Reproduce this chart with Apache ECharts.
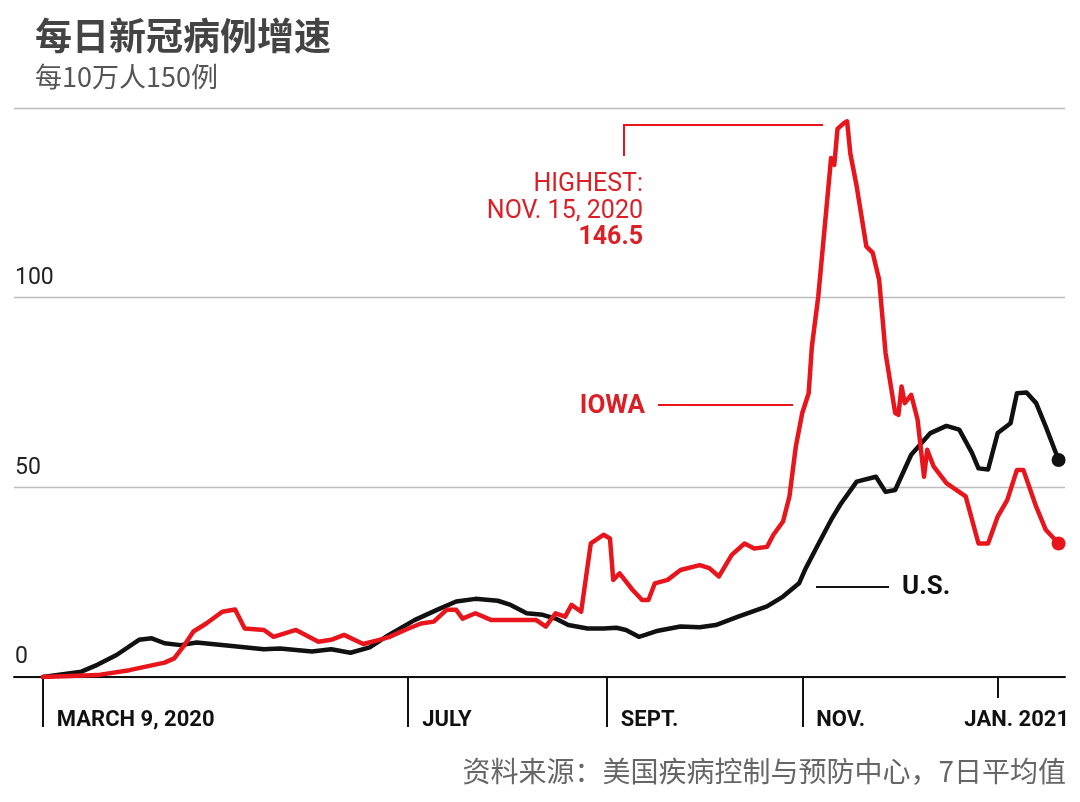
<!DOCTYPE html>
<html>
<head>
<meta charset="utf-8">
<script src="https://cdn.jsdelivr.net/npm/echarts@6/dist/echarts.min.js"></script>
<style>
html,body{margin:0;padding:0;background:#fff;}
#chart{width:1080px;height:802px;}
</style>
</head>
<body>
<div id="chart"></div>
<script>
// ---------- DATA ----------
const usDates = ['2020-03-09','2020-03-21','2020-03-26','2020-04-01','2020-04-08','2020-04-12','2020-04-16','2020-04-21','2020-04-26','2020-05-07','2020-05-17','2020-05-22','2020-06-01','2020-06-07','2020-06-13','2020-06-19','2020-06-25','2020-07-03','2020-07-10','2020-07-16','2020-07-22','2020-07-29','2020-08-02','2020-08-07','2020-08-12','2020-08-16','2020-08-20','2020-08-26','2020-08-31','2020-09-04','2020-09-07','2020-09-11','2020-09-13','2020-09-17','2020-09-24','2020-09-30','2020-10-05','2020-10-12','2020-10-21','2020-10-26','2020-10-31','2020-11-02','2020-11-06','2020-11-10','2020-11-13','2020-11-18','2020-11-24','2020-11-27','2020-11-30','2020-12-05','2020-12-11','2020-12-16','2020-12-20','2020-12-24','2020-12-26','2020-12-29','2021-01-01','2021-01-05','2021-01-07','2021-01-10','2021-01-13','2021-01-16','2021-01-20'];
const usValues = [0,1.4,3.2,5.8,9.8,10.2,8.9,8.4,9.1,8.2,7.3,7.5,6.7,7.3,6.4,7.8,11.1,15.0,17.7,19.9,20.6,20.1,19.0,16.8,16.4,15.4,13.7,12.8,12.8,13.0,12.4,10.6,11.1,12.2,13.3,13.1,13.7,15.9,18.6,21.2,24.7,28.5,35.0,41.4,45.6,51.5,52.8,48.8,49.3,58.6,64.3,66.2,65.2,59.0,55.0,54.7,64.3,66.9,74.8,75.0,72.2,66.0,57.2];

const iowaDates = ['2020-03-09','2020-03-26','2020-04-05','2020-04-16','2020-04-19','2020-04-22','2020-04-25','2020-04-29','2020-05-04','2020-05-08','2020-05-11','2020-05-17','2020-05-20','2020-05-27','2020-06-03','2020-06-07','2020-06-11','2020-06-17','2020-06-22','2020-06-25','2020-06-30','2020-07-05','2020-07-09','2020-07-13','2020-07-16','2020-07-18','2020-07-22','2020-07-27','2020-08-02','2020-08-10','2020-08-13','2020-08-16','2020-08-19','2020-08-21','2020-08-24','2020-08-27','2020-08-31','2020-09-02','2020-09-03','2020-09-05','2020-09-09','2020-09-12','2020-09-14','2020-09-16','2020-09-20','2020-09-24','2020-09-30','2020-10-03','2020-10-06','2020-10-10','2020-10-14','2020-10-17','2020-10-21','2020-10-23','2020-10-26','2020-10-28','2020-10-30','2020-11-01','2020-11-03','2020-11-04','2020-11-06','2020-11-10','2020-11-11','2020-11-12','2020-11-14','2020-11-15','2020-11-16','2020-11-18','2020-11-21','2020-11-23','2020-11-25','2020-11-27','2020-11-30','2020-12-01','2020-12-02','2020-12-03','2020-12-05','2020-12-07','2020-12-09','2020-12-10','2020-12-12','2020-12-16','2020-12-22','2020-12-26','2020-12-29','2021-01-01','2021-01-04','2021-01-07','2021-01-09','2021-01-13','2021-01-16','2021-01-20'];
const iowaValues = [0,0.5,1.8,3.8,4.9,8.2,12.0,14.1,17.2,17.8,12.8,12.4,10.6,12.4,9.3,9.8,11.1,8.7,9.8,10.5,12.4,14.1,14.6,17.7,17.7,15.4,16.8,15.0,15.0,15.0,13.3,16.8,15.9,19.0,17.2,35.2,37.5,36.5,25.6,27.3,23.0,20.3,20.3,24.7,25.6,28.2,29.5,28.7,26.5,32.2,35.2,33.9,34.3,37.5,41.0,47.6,60.8,69.6,74.8,87.1,100.3,136.8,135.0,144.5,146.0,146.5,138.0,129.3,113.5,111.8,104.7,85.4,69.6,69.1,76.6,72.2,74.4,67.8,52.8,59.9,55.5,51.1,47.6,35.2,35.2,42.3,46.7,54.6,54.6,44.9,38.8,35.2];

const xTickDates = ['2020-03-09','2020-07-01','2020-09-01','2020-11-01'];
const xTickLabels = ['MARCH 9, 2020','JULY','SEPT.','NOV.'];
const janTickDates = ['2021-01-01'];
const janTickLabels = ['JAN. 2021'];
const yTickValues = [0,50,100];
const yTickLabels = ['0','50','100'];

const titleText = '每日新冠病例增速';
const subtitleText = '每10万人150例';
const sourceText = '资料来源：美国疾病控制与预防中心，7日平均值';

// ---------- HELPERS ----------
const t = s => { const p = s.split('-').map(Number); return Date.UTC(p[0], p[1]-1, p[2]); };
const RED = '#e8161c';
const RED_TXT = '#dc1f26';
const BLACK = '#111111';
const LATIN = 'Roboto, "Liberation Sans", Arial, sans-serif';
const CJK = '"Noto Sans CJK SC", "Noto Sans", sans-serif';

const usData = usDates.map((d, i) => [t(d), usValues[i]]);
const iowaData = iowaDates.map((d, i) => [t(d), iowaValues[i]]);
const xMin = t('2020-02-29');
const xMax = t('2021-01-22');
const xTicks = xTickDates.map(t);
const janTicks = janTickDates.map(t);

const chart = echarts.init(document.getElementById('chart'), null, {renderer: 'canvas'});

const option = {
  animation: false,
  backgroundColor: '#fff',
  title: [
    {
      text: titleText,
      subtext: subtitleText,
      left: 30, top: 12,
      itemGap: 9,
      textStyle: {fontFamily: CJK, fontSize: 37, fontWeight: 'bold', color: '#444'},
      subtextStyle: {fontFamily: CJK, fontSize: 27, color: '#555'}
    },
    {
      text: sourceText,
      right: 9, top: 752,
      textStyle: {fontFamily: CJK, fontSize: 28, fontWeight: 'normal', color: '#666'}
    }
  ],
  grid: {left: 14, right: 15, top: 108, bottom: 125, containLabel: false},
  xAxis: [
    {
      type: 'value', min: xMin, max: xMax, scale: true,
      axisLine: {show: true, onZero: false, lineStyle: {color: BLACK, width: 2}},
      splitLine: {show: false},
      axisTick: {show: true, length: 50, lineStyle: {color: BLACK, width: 2}, customValues: xTicks},
      axisLabel: {
        show: true, customValues: xTicks,
        formatter: v => { const i = xTicks.indexOf(v); return i >= 0 ? xTickLabels[i] : ''; },
        align: 'left', padding: [0, 0, 0, 14], margin: 32,
        fontFamily: LATIN, fontSize: 22, fontWeight: 'bold', color: BLACK
      }
    },
    {
      type: 'value', min: xMin, max: xMax, scale: true, position: 'bottom', offset: 0,
      axisLine: {show: false, onZero: false},
      splitLine: {show: false},
      axisTick: {show: true, length: 21, lineStyle: {color: BLACK, width: 2}, customValues: janTicks},
      axisLabel: {
        show: true, customValues: janTicks,
        formatter: v => { const i = janTicks.indexOf(v); return i >= 0 ? janTickLabels[i] : ''; },
        align: 'center', padding: [0, 0, 0, 38], margin: 32,
        fontFamily: LATIN, fontSize: 22, fontWeight: 'bold', color: BLACK
      }
    }
  ],
  yAxis: {
    type: 'value', min: 0, max: 150, interval: 50,
    axisLine: {show: false}, axisTick: {show: false},
    splitLine: {show: true, lineStyle: {color: '#bcbcbc', width: 1.3}},
    axisLabel: {
      inside: true, customValues: yTickValues,
      formatter: v => { const i = yTickValues.indexOf(v); return i >= 0 ? yTickLabels[i] : ''; },
      align: 'left', verticalAlign: 'bottom', margin: 1, padding: [0, 0, 8, 0],
      fontFamily: LATIN, fontSize: 23, color: '#222'
    }
  },
  series: [
    {
      name: 'U.S.', type: 'line', data: usData, showSymbol: false, z: 3,
      lineStyle: {color: BLACK, width: 4.5, join: 'round', cap: 'round'},
      itemStyle: {color: BLACK}
    },
    {
      name: 'IOWA', type: 'line', data: iowaData, showSymbol: false, z: 4,
      lineStyle: {color: RED, width: 4.5, join: 'round', cap: 'round'},
      itemStyle: {color: RED}
    },
    {
      type: 'scatter', z: 5, symbolSize: 14,
      itemStyle: {opacity: 1},
      data: [
        {value: usData[usData.length - 1], itemStyle: {color: BLACK, opacity: 1}},
        {value: iowaData[iowaData.length - 1], itemStyle: {color: RED, opacity: 1}}
      ]
    }
  ],
  graphic: [
    {type: 'polyline', z: 10, shape: {points: [[624, 156], [624, 125], [823, 125]]}, style: {stroke: RED, lineWidth: 2, fill: null}},
    {type: 'text', z: 10, style: {text: 'HIGHEST:', x: 643, y: 185, align: 'right', verticalAlign: 'middle', fill: RED_TXT, font: '25px ' + LATIN}},
    {type: 'text', z: 10, style: {text: 'NOV. 15, 2020', x: 643, y: 212, align: 'right', verticalAlign: 'middle', fill: RED_TXT, font: '25px ' + LATIN}},
    {type: 'text', z: 10, style: {text: '146.5', x: 643, y: 238, align: 'right', verticalAlign: 'middle', fill: RED_TXT, font: 'bold 25px ' + LATIN}},
    {type: 'text', z: 10, style: {text: 'IOWA', x: 645, y: 406, align: 'right', verticalAlign: 'middle', fill: RED_TXT, font: 'bold 26px ' + LATIN}},
    {type: 'line', z: 10, shape: {x1: 658, y1: 405, x2: 793, y2: 405}, style: {stroke: RED, lineWidth: 2}},
    {type: 'line', z: 10, shape: {x1: 816, y1: 587, x2: 889, y2: 587}, style: {stroke: BLACK, lineWidth: 2}},
    {type: 'text', z: 10, style: {text: 'U.S.', x: 902, y: 587, align: 'left', verticalAlign: 'middle', fill: BLACK, font: 'bold 26px ' + LATIN}}
  ]
};
chart.setOption(option);
</script>
</body>
</html>
